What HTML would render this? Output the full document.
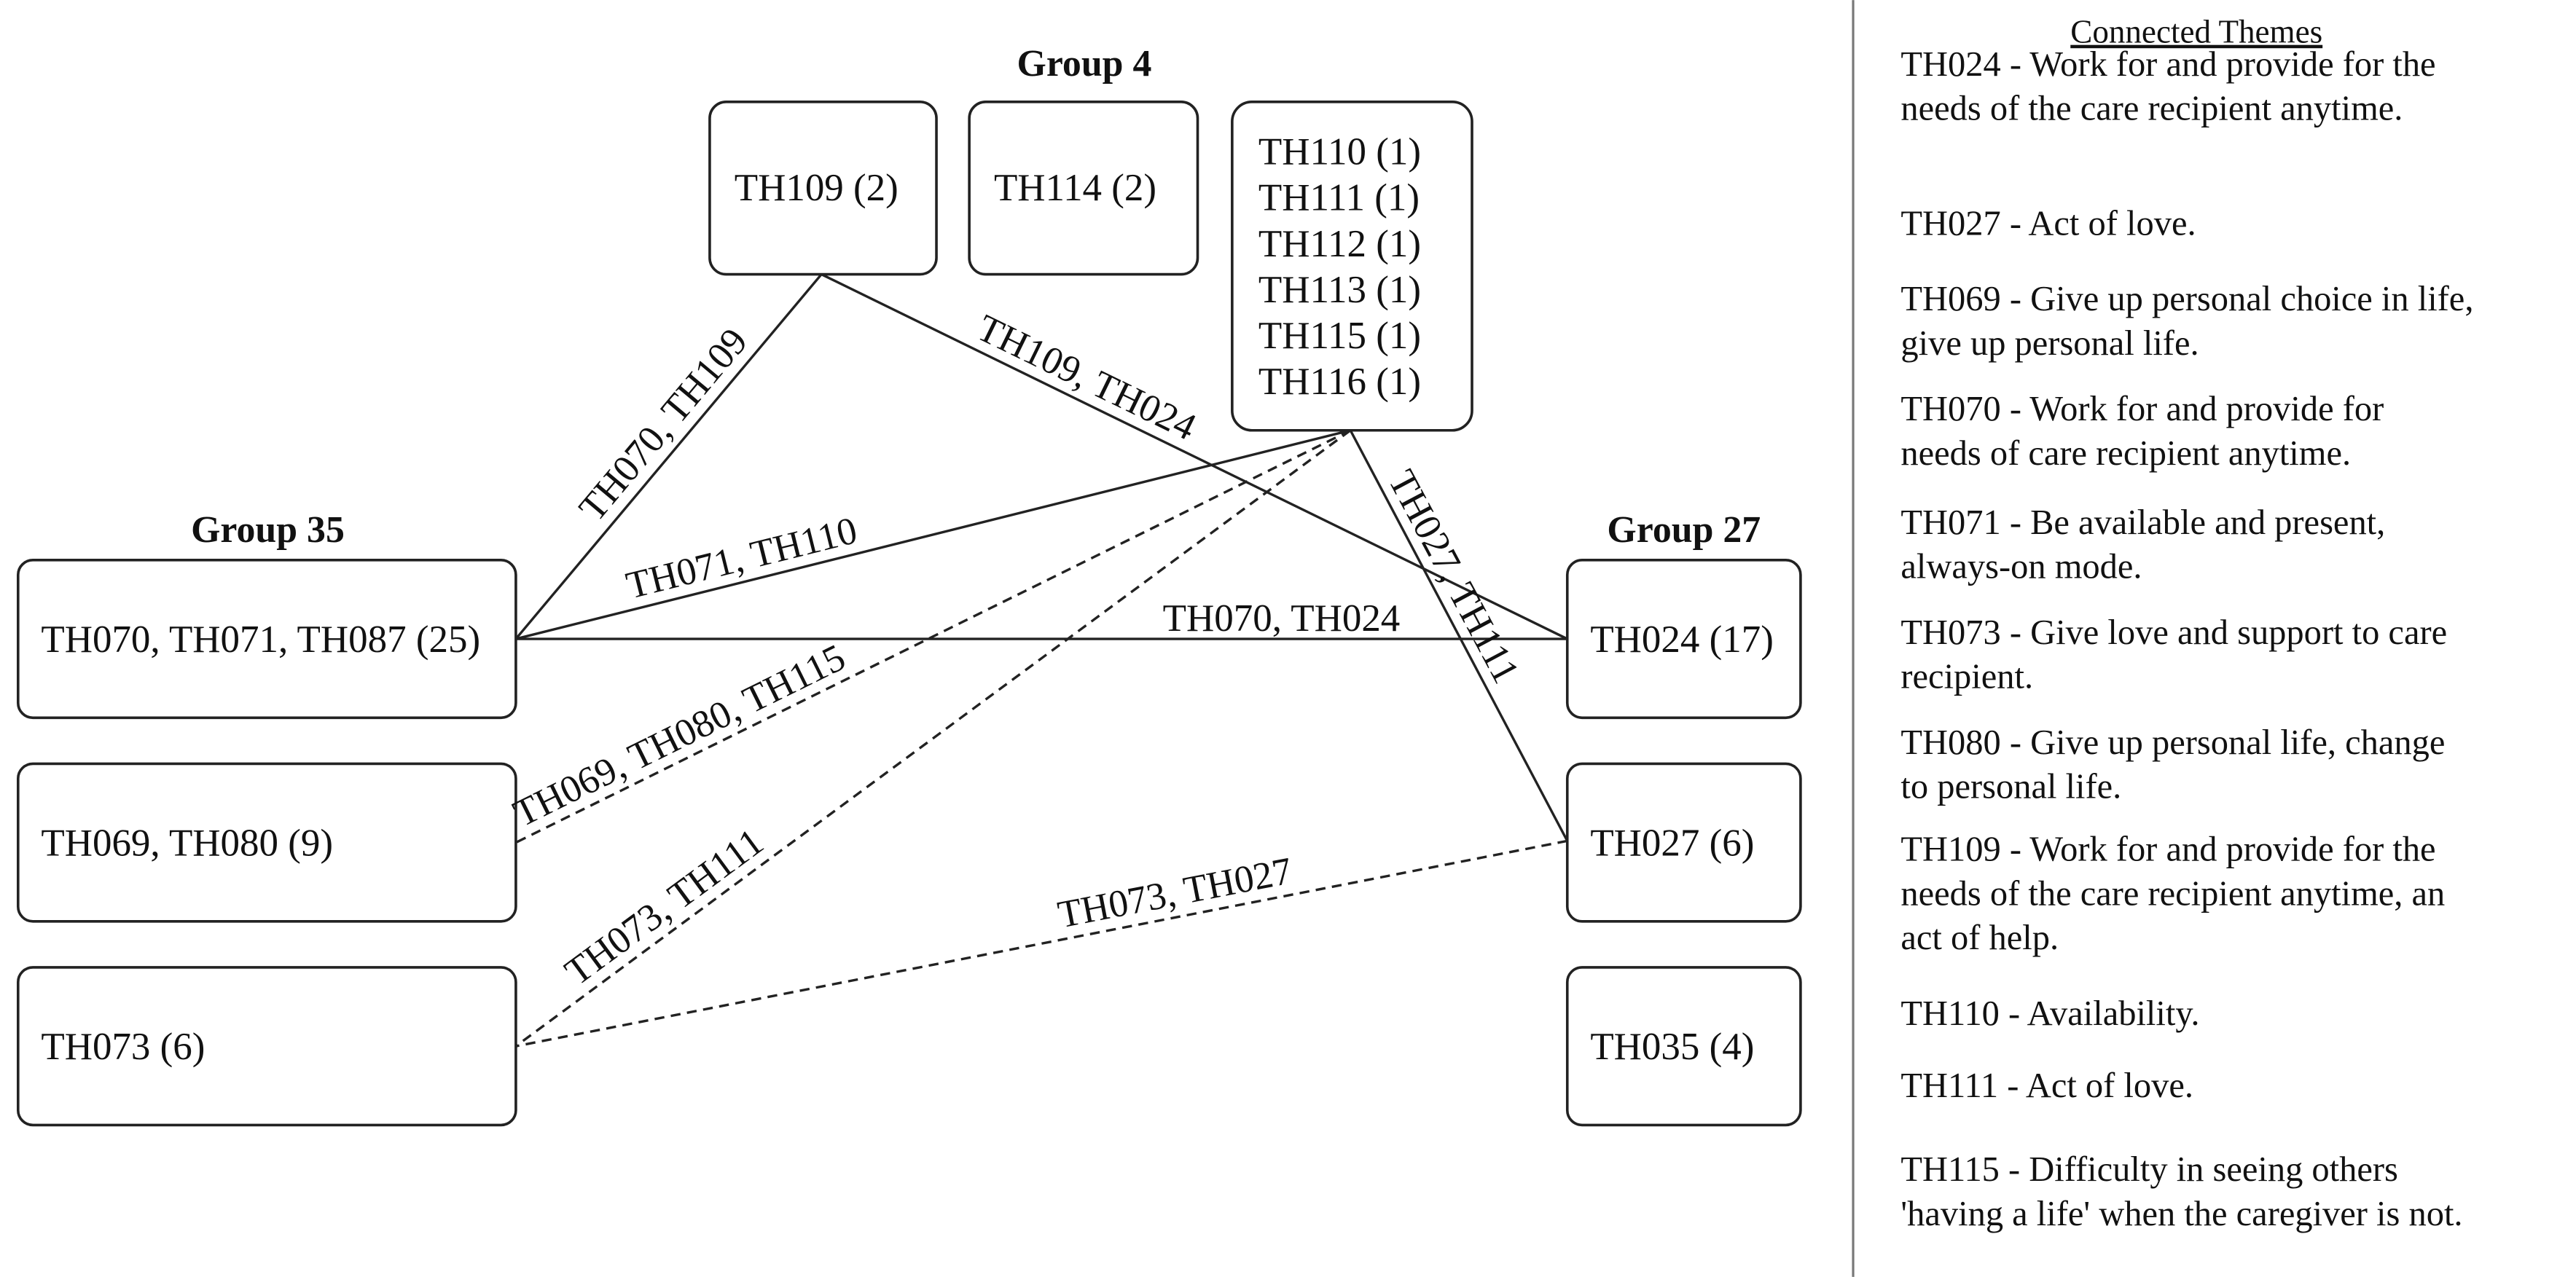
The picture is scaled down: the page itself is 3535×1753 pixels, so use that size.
<!DOCTYPE html>
<html><head><meta charset="utf-8"><style>
html,body{margin:0;padding:0;background:#fff;}
svg{display:block;}
text{font-family:"Liberation Serif",serif;fill:#111;}
</style></head><body>
<svg width="3535" height="1753" viewBox="0 0 1568 777.5" xmlns="http://www.w3.org/2000/svg">
<rect width="1568" height="777.5" fill="#fff"/>
<g fill="none" stroke="#222" stroke-width="1.5">
<line x1="500" y1="167" x2="314" y2="389"/>
<line x1="500" y1="167" x2="954" y2="389"/>
<line x1="314" y1="389" x2="822" y2="262"/>
<line x1="314" y1="389" x2="954" y2="389"/>
<line x1="822" y1="262" x2="954" y2="512"/>
<g stroke-dasharray="6,4">
<line x1="822" y1="262" x2="314" y2="513"/>
<line x1="822" y1="262" x2="314" y2="637"/>
<line x1="954" y1="512" x2="314" y2="637"/>
</g>
</g>
<g fill="#fff" stroke="#222" stroke-width="1.6">
<rect x="432" y="62" width="138" height="105" rx="10"/>
<rect x="590" y="62" width="139" height="105" rx="10"/>
<rect x="750" y="62" width="146" height="200" rx="12"/>
<rect x="11" y="341" width="303" height="96" rx="9"/>
<rect x="11" y="465" width="303" height="96" rx="9"/>
<rect x="11" y="589" width="303" height="96" rx="9"/>
<rect x="954" y="341" width="142" height="96" rx="9"/>
<rect x="954" y="465" width="142" height="96" rx="9"/>
<rect x="954" y="589" width="142" height="96" rx="9"/>
</g>
<line x1="1128" y1="0" x2="1128" y2="777.5" stroke="#777" stroke-width="1.4"/>
<g font-size="23" font-weight="bold" text-anchor="middle">
<text x="660" y="46">Group 4</text>
<text x="163" y="330">Group 35</text>
<text x="1025" y="330">Group 27</text>
</g>
<g font-size="23.5">
<text x="447" y="122">TH109 (2)</text>
<text x="605" y="122">TH114 (2)</text>
<text x="766" y="100">TH110 (1)</text>
<text x="766" y="128">TH111 (1)</text>
<text x="766" y="156">TH112 (1)</text>
<text x="766" y="184">TH113 (1)</text>
<text x="766" y="212">TH115 (1)</text>
<text x="766" y="240">TH116 (1)</text>
<text x="25" y="397">TH070, TH071, TH087 (25)</text>
<text x="25" y="521">TH069, TH080 (9)</text>
<text x="25" y="645">TH073 (6)</text>
<text x="968" y="397">TH024 (17)</text>
<text x="968" y="521">TH027 (6)</text>
<text x="968" y="645">TH035 (4)</text>
</g>
<g font-size="23.5" text-anchor="middle">
<text transform="translate(415,268) rotate(-50)" y="-7">TH070, TH109</text>
<text transform="translate(655,243) rotate(26)" y="-7">TH109, TH024</text>
<text transform="translate(455,354) rotate(-14)" y="-7">TH071, TH110</text>
<text x="780" y="384">TH070, TH024</text>
<text transform="translate(872,358) rotate(62)" y="-7">TH027, TH111</text>
<text transform="translate(420,461) rotate(-26.3)" y="-7">TH069, TH080, TH115</text>
<text transform="translate(413,564) rotate(-36.4)" y="-7">TH073, TH111</text>
<text transform="translate(718,558) rotate(-11)" y="-7">TH073, TH027</text>
</g>
<text x="1337" y="26" font-size="20" text-anchor="middle" text-decoration="underline">Connected Themes</text>
<g font-size="21.5">
<text x="1157" y="46">TH024 - Work for and provide for the</text>
<text x="1157" y="73">needs of the care recipient anytime.</text>
<text x="1157" y="143">TH027 - Act of love.</text>
<text x="1157" y="189">TH069 - Give up personal choice in life,</text>
<text x="1157" y="216">give up personal life.</text>
<text x="1157" y="256">TH070 - Work for and provide for</text>
<text x="1157" y="283">needs of care recipient anytime.</text>
<text x="1157" y="325">TH071 - Be available and present,</text>
<text x="1157" y="352">always-on mode.</text>
<text x="1157" y="392">TH073 - Give love and support to care</text>
<text x="1157" y="419">recipient.</text>
<text x="1157" y="459">TH080 - Give up personal life, change</text>
<text x="1157" y="486">to personal life.</text>
<text x="1157" y="524">TH109 - Work for and provide for the</text>
<text x="1157" y="551">needs of the care recipient anytime, an</text>
<text x="1157" y="578">act of help.</text>
<text x="1157" y="624">TH110 - Availability.</text>
<text x="1157" y="668">TH111 - Act of love.</text>
<text x="1157" y="719">TH115 - Difficulty in seeing others</text>
<text x="1157" y="746">'having a life' when the caregiver is not.</text>
</g>
</svg>
</body></html>
